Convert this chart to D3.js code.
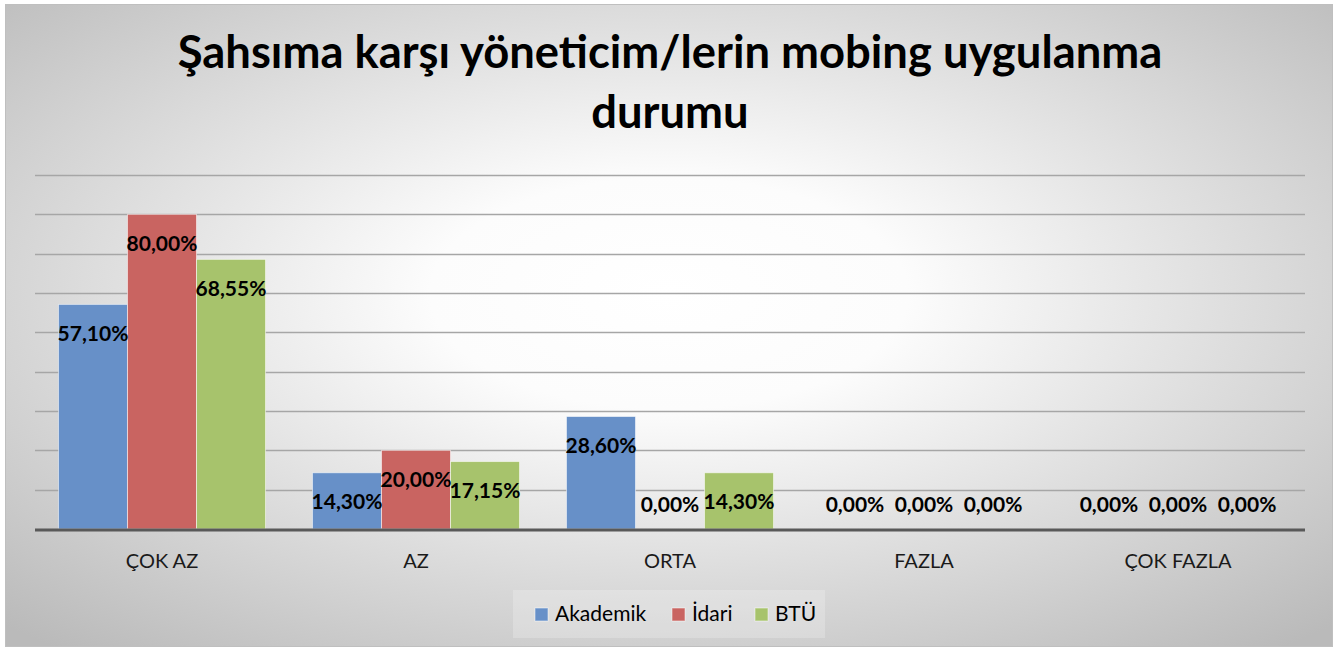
<!DOCTYPE html>
<html>
<head>
<meta charset="utf-8">
<script src="https://cdn.jsdelivr.net/npm/d3@7"></script>
<style>
    html, body { margin: 0; padding: 0; background: #ffffff; }
    svg { display: block; font-family: Lato, "Open Sans", sans-serif; }
</style>
</head>
<body>
<div id="main_area"></div>
<script>
// veriler
var categories = ["ÇOK AZ", "AZ", "ORTA", "FAZLA", "ÇOK FAZLA"];
var seriesNames = ["Akademik", "İdari", "BTÜ"];
var akademik = [57.10, 14.30, 28.60, 0.00, 0.00];
var idari = [80.00, 20.00, 0.00, 0.00, 0.00];
var btu = [68.55, 17.15, 14.30, 0.00, 0.00];
var seriesColors = ["#6790c8", "#c96461", "#a7c36c"];
var titleLines = ["Şahsıma karşı yöneticim/lerin mobing uygulanma", "durumu"];
var gridTicks = [0.1, 0.2, 0.3, 0.4, 0.5, 0.6, 0.7, 0.8, 0.9];

var W = 1335, H = 649;
var plot = {left: 35, right: 1305, top: 175, bottom: 529};

var svg = d3.select("#main_area").append("svg")
    .attr("width", W)
    .attr("height", H);

// arka plan gradyanı
var defs = svg.append("defs");
var grad = defs.append("radialGradient")
    .attr("id", "bg")
    .attr("cx", "50%").attr("cy", "45%")
    .attr("r", "72%");
grad.append("stop").attr("offset", "0%").attr("stop-color", "#ffffff");
grad.append("stop").attr("offset", "25%").attr("stop-color", "#fcfcfc");
grad.append("stop").attr("offset", "100%").attr("stop-color", "#bababa");

svg.append("rect")
    .attr("x", 5.5).attr("y", 4.5)
    .attr("width", 1327).attr("height", 642)
    .attr("fill", "url(#bg)")
    .attr("stroke", "#bfbfbf")
    .attr("stroke-width", 1);

// başlık
var title = svg.append("g")
    .attr("font-weight", "bold")
    .attr("fill", "#000000")
    .attr("text-anchor", "middle");
var t1 = title.append("text")
    .attr("x", 670).attr("y", 68)
    .attr("font-size", 44)
    .text(titleLines[0]);
// ilk satırı genişliğe oturt
var fs = 44 * 985 / t1.node().getComputedTextLength();
t1.attr("font-size", fs);
title.append("text")
    .attr("x", 670).attr("y", 128)
    .attr("font-size", fs)
    .text(titleLines[1]);

// ölçekler
var yScale = d3.scaleLinear()
    .domain([0, 0.9])
    .range([plot.bottom, plot.top]);

var x0 = d3.scaleBand()
    .domain(categories)
    .range([plot.left, plot.right]);

var x1 = d3.scaleBand()
    .domain(seriesNames)
    .range([0, x0.bandwidth()])
    .paddingOuter(0.34);

// yatay ızgara
svg.append("g")
    .selectAll("line")
    .data(gridTicks)
    .enter()
    .append("line")
    .attr("x1", plot.left).attr("x2", plot.right)
    .attr("y1", function (d) { return Math.round(yScale(d)) + 0.5; })
    .attr("y2", function (d) { return Math.round(yScale(d)) + 0.5; })
    .attr("stroke", "#a6a6a6")
    .attr("stroke-width", 1.3);

// tablo
var table = categories.map(function (c, i) {
    return {cat: c, values: [akademik[i], idari[i], btu[i]]};
});

var trFormat = d3.formatLocale({decimal: ",", thousands: ".", grouping: [3], currency: ["", "₺"]}).format(".2%");

var groups = svg.append("g")
    .selectAll("g")
    .data(table)
    .enter()
    .append("g")
    .attr("transform", function (d) { return "translate(" + x0(d.cat) + ",0)"; });

groups.selectAll("rect")
    .data(function (d) {
        return d.values.map(function (v, j) { return {name: seriesNames[j], value: v, j: j}; });
    })
    .enter()
    .append("rect")
    .attr("x", function (d) { return x1(d.name); })
    .attr("y", function (d) { return yScale(d.value / 100); })
    .attr("width", x1.bandwidth())
    .attr("height", function (d) { return plot.bottom - yScale(d.value / 100); })
    .attr("fill", function (d) { return seriesColors[d.j]; })
    .attr("stroke", "#ffffff")
    .attr("stroke-opacity", 0.55)
    .attr("stroke-width", 1);

// x ekseni çizgisi
svg.append("line")
    .attr("x1", plot.left).attr("x2", plot.right)
    .attr("y1", plot.bottom + 1).attr("y2", plot.bottom + 1)
    .attr("stroke", "#595959")
    .attr("stroke-width", 3);

// değer etiketleri
groups.selectAll("text.lbl")
    .data(function (d) {
        return d.values.map(function (v, j) { return {name: seriesNames[j], value: v}; });
    })
    .enter()
    .append("text")
    .attr("class", "lbl")
    .attr("x", function (d) { return x1(d.name) + x1.bandwidth() / 2; })
    .attr("y", function (d) { return Math.min(yScale(d.value / 100) + 29, plot.bottom - 24); })
    .attr("dy", "0.35em")
    .attr("text-anchor", "middle")
    .attr("font-size", 21)
    .attr("font-weight", "bold")
    .attr("fill", "#000000")
    .text(function (d) { return trFormat(d.value / 100); });

// kategori etiketleri
svg.append("g")
    .selectAll("text")
    .data(categories)
    .enter()
    .append("text")
    .attr("x", function (d) { return x0(d) + x0.bandwidth() / 2; })
    .attr("y", 568)
    .attr("text-anchor", "middle")
    .attr("font-size", 20)
    .attr("fill", "#1a1a1a")
    .text(function (d) { return d; });

// lejant
svg.append("rect")
    .attr("x", 513).attr("y", 590)
    .attr("width", 312).attr("height", 48)
    .attr("fill", "#ffffff")
    .attr("fill-opacity", 0.22);

var legendX = [535, 672, 755];
var legend = svg.append("g")
    .selectAll("g")
    .data(seriesNames)
    .enter()
    .append("g")
    .attr("transform", function (d, i) { return "translate(" + legendX[i] + ",608)"; });

legend.append("rect")
    .attr("width", 13)
    .attr("height", 13)
    .attr("fill", function (d, i) { return seriesColors[i]; })
    .attr("stroke", "#ffffff")
    .attr("stroke-opacity", 0.5);

legend.append("text")
    .attr("x", 20)
    .attr("y", 13)
    .attr("font-size", 21)
    .attr("fill", "#000000")
    .text(function (d) { return d; });
</script>
</body>
</html>
